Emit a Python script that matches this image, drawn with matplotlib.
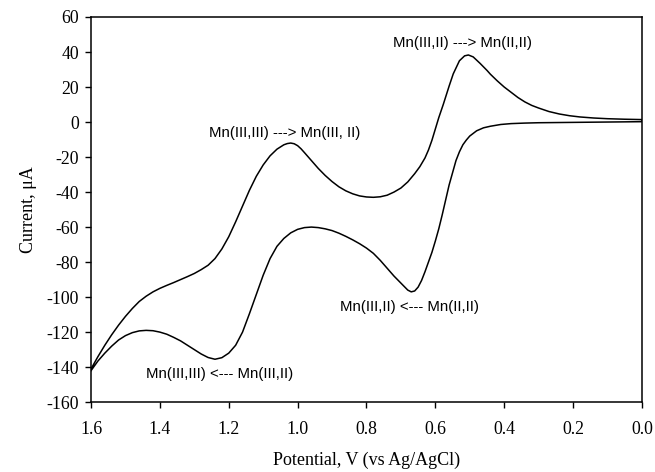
import matplotlib
matplotlib.use("Agg")
import matplotlib.pyplot as plt

plt.rcParams["axes.unicode_minus"] = False

# forward sweep (1.6 V -> 0.0 V)
fwd_potential = [1.60, 1.58, 1.56, 1.54, 1.52, 1.50, 1.48, 1.46, 1.44, 1.42, 1.40, 1.38,
                 1.36, 1.34, 1.32, 1.30, 1.28, 1.26, 1.24, 1.22, 1.20, 1.18, 1.16, 1.14,
                 1.12, 1.10, 1.08, 1.06, 1.04, 1.03, 1.02, 1.01, 1.00, 0.99, 0.98, 0.96,
                 0.94, 0.92, 0.90, 0.88, 0.86, 0.84, 0.82, 0.80, 0.78, 0.76, 0.74, 0.72,
                 0.70, 0.68, 0.66, 0.645, 0.63, 0.62, 0.61, 0.60, 0.59, 0.577, 0.56, 0.548,
                 0.53, 0.515, 0.504, 0.49, 0.47, 0.45, 0.44, 0.42, 0.40, 0.38, 0.36, 0.34,
                 0.32, 0.30, 0.27, 0.24, 0.21, 0.18, 0.14, 0.10, 0.05, 0.00]
fwd_current = [-141, -134, -127.5, -121.5, -116, -111, -106.5, -102.5, -99.5, -97, -95, -93.3,
               -91.7, -90, -88.3, -86.5, -84.3, -81.8, -78, -72.5, -65.5, -57, -48, -39,
               -31, -24.5, -19.3, -15.5, -13, -12.3, -12, -12.4, -13.5, -15.3, -17.5, -22,
               -26.5, -30.5, -34, -37, -39.3, -41, -42.2, -42.8, -43, -42.7, -41.8, -40,
               -37.7, -34.2, -29.5, -25.5, -20.5, -16, -10.5, -4, 2.5, 10, 20.5, 27.5,
               35, 37.8, 38.3, 37.2, 33.5, 29.5, 27.3, 23.5, 20, 17, 14, 11.5,
               9.5, 8, 6, 4.6, 3.6, 2.9, 2.3, 1.9, 1.6, 1.4]

# reverse sweep (0.0 V -> 1.6 V)
rev_potential = [0.00, 0.05, 0.10, 0.15, 0.20, 0.25, 0.30, 0.34, 0.38, 0.41, 0.44, 0.46,
                 0.48, 0.50, 0.51, 0.52, 0.53, 0.54, 0.55, 0.56, 0.57, 0.58, 0.59, 0.60,
                 0.61, 0.62, 0.63, 0.64, 0.65, 0.66, 0.67, 0.68, 0.69, 0.70, 0.72, 0.74,
                 0.76, 0.78, 0.80, 0.82, 0.84, 0.86, 0.88, 0.90, 0.92, 0.94, 0.96, 0.98,
                 1.00, 1.02, 1.04, 1.06, 1.08, 1.10, 1.12, 1.14, 1.16, 1.18, 1.20, 1.22,
                 1.24, 1.26, 1.28, 1.30, 1.32, 1.34, 1.36, 1.38, 1.40, 1.42, 1.44, 1.46,
                 1.48, 1.50, 1.52, 1.54, 1.56, 1.58, 1.60]
rev_current = [0.2, 0.1, 0.0, -0.1, -0.2, -0.3, -0.4, -0.6, -0.9, -1.4, -2.4, -3.3,
               -5, -8, -10.3, -13, -17, -22, -29, -36, -44.5, -53, -61, -68,
               -74.5, -80, -85.5, -90.5, -94.3, -96.5, -97, -96, -94, -92, -88, -83.5,
               -79, -75, -72, -69.5, -67.3, -65.3, -63.5, -62, -61, -60.3, -60, -60.3,
               -61.3, -63.3, -66.5, -71, -78, -87.5, -98.5, -109.5, -120, -127.5, -132, -134.6,
               -135.5, -134.5, -132.5, -130, -127.5, -125, -123, -121.2, -120, -119.2, -119, -119.3,
               -120.3, -122, -124.5, -128, -132, -136.5, -142]

labels = ["Mn(III,III) ---> Mn(III, II)", "Mn(III,II) ---> Mn(II,II)",
          "Mn(III,II) <--- Mn(II,II)", "Mn(III,III) <--- Mn(III,II)"]
label_x = [1.037, 0.52, 0.675, 1.227]
label_y = [-6.3, 45.3, -105.5, -144]

fig = plt.figure(figsize=(6.55, 4.72), dpi=100)
ax = fig.add_axes([0.139, 0.148, 0.841, 0.816])

ax.plot(fwd_potential + rev_potential, fwd_current + rev_current, color="black", lw=1.1)

for txt, x, y in zip(labels, label_x, label_y):
    ax.text(x, y, txt, ha="center", va="center", fontsize=10.8, family="Liberation Sans")

ax.set_xlim(1.6, 0.0)
ax.set_ylim(-160, 60)
ax.set_xticks([1.6, 1.4, 1.2, 1.0, 0.8, 0.6, 0.4, 0.2, 0.0])
ax.set_xticklabels(["1.6", "1.4", "1.2", "1.0", "0.8", "0.6", "0.4", "0.2", "0.0"])
ax.set_yticks(range(-160, 61, 20))

for sp in ax.spines.values():
    sp.set_linewidth(1.1)
ax.tick_params(direction="out", length=4.5, width=1, labelsize=12.8)
ax.tick_params(axis="x", pad=9)
ax.tick_params(axis="y", pad=4)
for lbl in ax.get_xticklabels() + ax.get_yticklabels():
    lbl.set_family("Liberation Serif")

ax.set_xlabel("Potential, V (vs Ag/AgCl)", family="Liberation Serif", fontsize=13, labelpad=10)
ax.set_ylabel("Current, μA", family="Liberation Serif", fontsize=13, labelpad=7)

fig.savefig("out.png", dpi=100)
